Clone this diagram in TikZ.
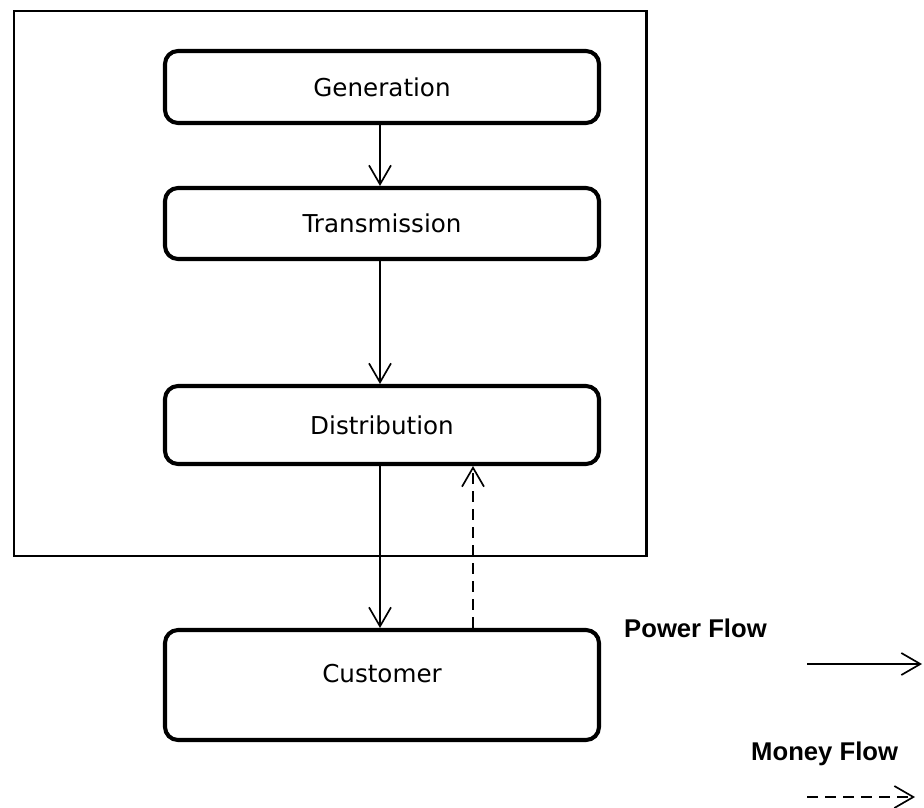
\documentclass[tikz,border=0pt]{standalone}
\usepackage{fontspec}
\setmainfont{DejaVu Sans}
\newfontfamily\legendfont{Liberation Sans}
\usetikzlibrary{arrows.meta}

\begin{document}
\begin{tikzpicture}[
  stagebox/.style={rectangle, draw, line width=2.3pt, rounded corners=0.26cm, minimum width=8.68cm, font=\fontsize{14}{17}\selectfont},
  flow/.style={line width=0.95pt, -{Straight Barb[length=3.8mm, width=4.4mm]}},
  moneyflow/.style={flow, dash pattern=on 0.21cm off 0.15cm},
  legendtext/.style={anchor=base west, font=\legendfont\bfseries\fontsize{14.6}{18}\selectfont}
]
  \useasboundingbox (0,0) rectangle (18.48,-16.14);
  \draw[line width=1.7pt] (0.28,-0.22) rectangle (12.92,-11.12);

  \node[stagebox, minimum height=1.44cm] (generation) at (7.64,-1.74) {Generation};
  \node[stagebox, minimum height=1.42cm] (transmission) at (7.64,-4.47) {Transmission};
  \node[stagebox, minimum height=1.56cm] (distribution) at (7.64,-8.5) {Distribution};
  \node[stagebox, minimum height=2.2cm, text depth=0.45cm] (customer) at (7.64,-13.7) {Customer};

  \draw[flow] ([xshift=-0.04cm]generation.south) -- ([xshift=-0.04cm]transmission.north);
  \draw[flow] ([xshift=-0.04cm]transmission.south) -- ([xshift=-0.04cm]distribution.north);
  \draw[flow] ([xshift=-0.04cm]distribution.south) -- ([xshift=-0.04cm]customer.north);
  \draw[moneyflow] ([xshift=1.82cm]customer.north) -- ([xshift=1.82cm]distribution.south);

  % legend
  \node[legendtext] (powerlabel) at (12.36,-12.74) {Power Flow};
  \node[legendtext] (moneylabel) at (14.9,-15.2) {Money Flow};
  \coordinate (powerstart) at (16.14,-13.28);
  \coordinate (powerend) at (18.44,-13.28);
  \coordinate (moneystart) at (16.14,-15.94);
  \coordinate (moneyend) at (18.3,-15.94);
  \draw[flow] (powerstart) -- (powerend);
  \draw[moneyflow] (moneystart) -- (moneyend);
\end{tikzpicture}
\end{document}
